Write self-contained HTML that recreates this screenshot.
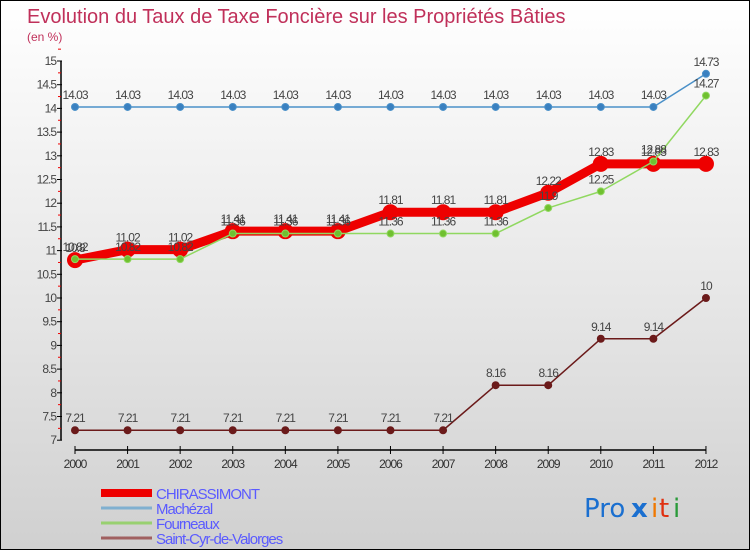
<!DOCTYPE html>
<html><head><meta charset="utf-8"><style>
body{margin:0;width:750px;height:550px;overflow:hidden;font-family:"Liberation Sans",sans-serif}
#wrap{position:relative;width:748px;height:548px;border:1px solid #000;background:linear-gradient(#fff 0%,#e6e6e6 55%,#d0d0d0 100%)}
</style></head><body>
<div id="wrap">
<svg id="chart" width="748" height="548" xmlns="http://www.w3.org/2000/svg">
<text x="26" y="22" font-size="20" fill="#c0305a">Evolution du Taux de Taxe Foncière sur les Propriétés Bâties</text>
<text x="26" y="40" font-size="12" fill="#c0305a">(en %)</text>
<g id="axes"></g>
<g id="series"></g>
<g id="legend"></g>
<g font-size="26" font-family="'DejaVu Sans',sans-serif">
<text x="583" y="516" fill="#1a6fd0">Pro</text>
<text x="630" y="516" fill="#1a6fd0" font-weight="bold">x</text>
<text x="650" y="516" fill="#f07800">i</text>
<text x="658" y="516" fill="#e03010">t</text>
<text x="672" y="516" fill="#2a9a3a">i</text>
</g>
</svg>
</div>
<script>
const years=[2000,2001,2002,2003,2004,2005,2006,2007,2008,2009,2010,2011,2012];
const chirassimont=[10.8,11.02,11.02,11.41,11.41,11.41,11.81,11.81,11.81,12.22,12.83,12.83,12.83];
const machezal=[14.03,14.03,14.03,14.03,14.03,14.03,14.03,14.03,14.03,14.03,14.03,14.03,14.73];
const fourneaux=[10.82,10.82,10.82,11.36,11.36,11.36,11.36,11.36,11.36,11.9,12.25,12.88,14.27];
const saintCyr=[7.21,7.21,7.21,7.21,7.21,7.21,7.21,7.21,8.16,8.16,9.14,9.14,10];
const yTicks=[7,7.5,8,8.5,9,9.5,10,10.5,11,11.5,12,12.5,13,13.5,14,14.5,15];
const seriesNames=["CHIRASSIMONT","Machézal","Fourneaux","Saint-Cyr-de-Valorges"];
const NS="http://www.w3.org/2000/svg";
const xS=i=>74+i*52.58;
const yS=v=>60+(15-v)*47.4;
function mk(t,a,p){const e=document.createElementNS(NS,t);for(const k in a)e.setAttribute(k,a[k]);p.appendChild(e);return e;}
const ax=document.getElementById('axes');
let l=mk('line',{x1:60,y1:yS(15),x2:60,y2:yS(7),stroke:'#000','stroke-width':1.5},ax);


yTicks.forEach(v=>{
 mk('line',{x1:56,y1:yS(v),x2:61,y2:yS(v),stroke:'#000'},ax);
 mk('line',{x1:57,y1:yS(v+0.25),x2:60,y2:yS(v+0.25),stroke:'#e00'},ax);
 const t=mk('text',{x:55,y:yS(v)+4,'text-anchor':'end','font-size':12,fill:'#444','letter-spacing':'-1'},ax);
 t.textContent=String(v);
 
 
});
l=mk('line',{x1:74,y1:449,x2:xS(12),y2:449,stroke:'#000','stroke-width':1.5},ax);


years.forEach((y,i)=>{
 mk('line',{x1:xS(i),y1:445,x2:xS(i),y2:453,stroke:'#000'},ax);
 const t=mk('text',{x:xS(i),y:467,'text-anchor':'middle','font-size':12,fill:'#333','letter-spacing':'-1'},ax);
 t.textContent=y;
 
 
});
const sg=document.getElementById('series');
function draw(vals,color,w,r,dot,name){
 const g=mk('g',{},sg);
 
 
 mk('polyline',{points:vals.map((v,i)=>xS(i)+','+yS(v)).join(' '),fill:'none',stroke:color,'stroke-width':w,'stroke-linejoin':'round'},g);
 vals.forEach((v,i)=>{
  const c=mk('circle',{cx:xS(i),cy:yS(v),r:r,fill:dot,stroke:color,'stroke-width':1},g);
  
  
  const t=mk('text',{x:xS(i),y:yS(v)-8,'text-anchor':'middle','font-size':12,fill:'#444','letter-spacing':'-1'},g);
  t.textContent=String(v);
  
  
 });
}
draw(machezal,'#4a90c8',1.5,3.5,'#3a80c0','machezal-series');
draw(saintCyr,'#6b1a1a',1.5,3.5,'#6b1a1a','saint-cyr-series');
draw(chirassimont,'#ee0000',9,7.5,'#ee0000','chirassimont-series');
draw(fourneaux,'#90d860',1.5,3.5,'#70c030','fourneaux-series');
const lg=document.getElementById('legend');
const lc=['#ee0000','#80b0d0','#98d070','#a06060'],lw=[8,3,3,3];
seriesNames.forEach((n,i)=>{
 const y=492+i*15;
 const g=mk('g',{},lg);
 
 
 mk('line',{x1:100,y1:y,x2:151,y2:y,stroke:lc[i],'stroke-width':lw[i]},g);
 const t=mk('text',{x:155,y:y+6,'font-size':15,fill:'#5a5aff','letter-spacing':'-1'},g);
 t.textContent=n;
});
</script>
</body></html>
